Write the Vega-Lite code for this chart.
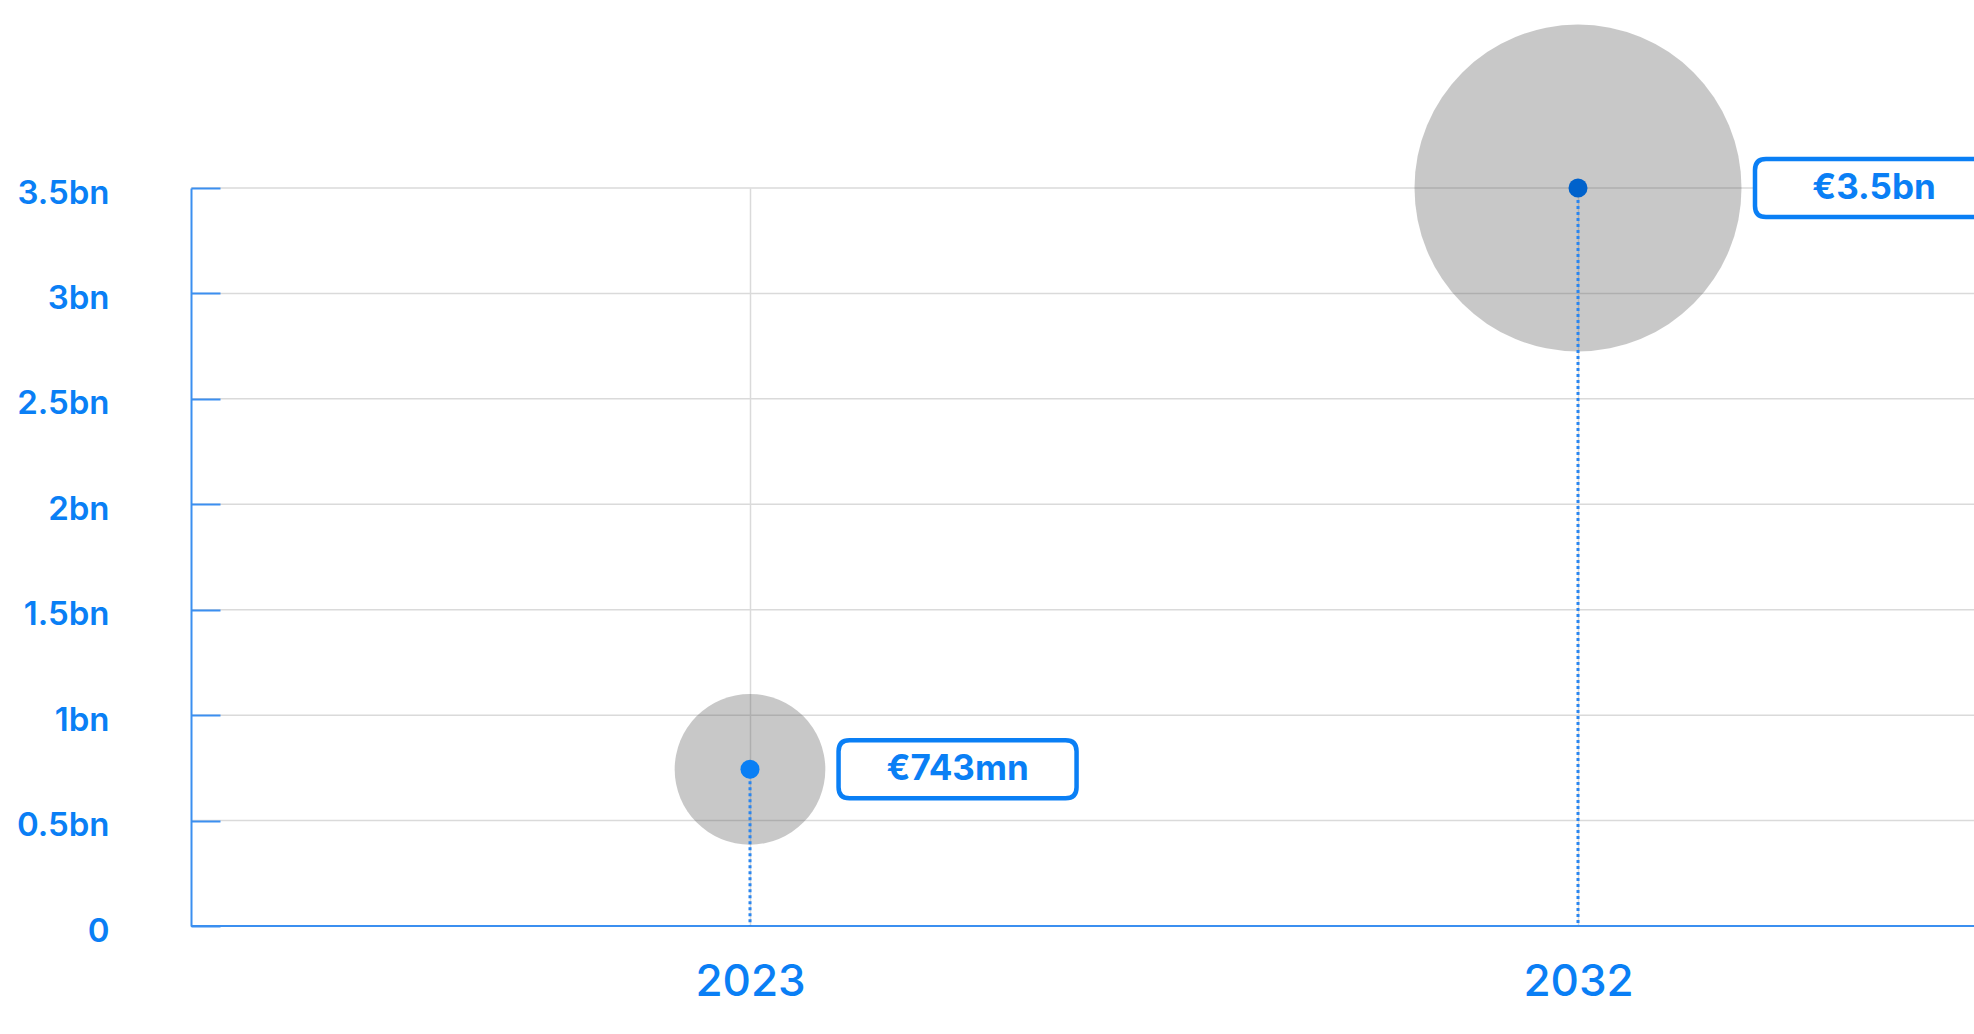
{
  "$schema": "https://vega.github.io/schema/vega-lite/v6.json",
  "width": 1783,
  "height": 738,
  "autosize": {"type": "none"},
  "padding": {"left": 191, "top": 188, "right": 0, "bottom": 108},
  "background": "white",
  "config": {"view": {"stroke": null}, "font": "Inter"},
  "datasets": {
    "points": [
      {"year": 2023, "value": 743000000, "label": "€743mn"},
      {"year": 2032, "value": 3500000000, "label": "€3.5bn"}
    ],
    "gridlines": [
      {"value": 0}, {"value": 500000000}, {"value": 1000000000}, {"value": 1500000000},
      {"value": 2000000000}, {"value": 2500000000}, {"value": 3000000000}, {"value": 3500000000}
    ]
  },
  "layer": [
    {
      "data": {"name": "gridlines"},
      "mark": {"type": "rule"},
      "encoding": {
        "y": {
          "field": "value",
          "type": "quantitative",
          "scale": {"domain": [0, 3500000000], "nice": false},
          "axis": {
            "values": [0, 500000000, 1000000000, 1500000000, 2000000000, 2500000000, 3000000000, 3500000000],
            "labelExpr": "datum.value == 0 ? '0' : (datum.value / 1e9) + 'bn'",
            "labelFont": "Inter",
            "labelFontSize": 33,
            "labelFontWeight": 600,
            "labelColor": "#0a7ff5",
            "labelPadding": 111,
            "labelOffset": 5,
            "tickSize": -29,
            "tickColor": "#3b8ff0",
            "tickWidth": 2,
            "domainColor": "#3b8ff0",
            "domainWidth": 2,
            "grid": false,
            "zindex": 1,
            "title": null
          }
        },
        "color": {
          "condition": {"test": "datum.value === 0", "value": "#3b8ff0"},
          "value": "#dadada"
        },
        "strokeWidth": {
          "condition": {"test": "datum.value === 0", "value": 2},
          "value": 1.5
        }
      }
    },
    {
      "data": {"name": "points"},
      "encoding": {
        "x": {
          "field": "year",
          "type": "ordinal",
          "scale": {"type": "point", "range": [559, 1387], "padding": 0},
          "axis": {
            "ticks": false,
            "domain": false,
            "grid": true,
            "labelAngle": 0,
            "labelFont": "Inter",
            "labelFontSize": 44,
            "labelFontWeight": 500,
            "labelColor": "#0a7ff5",
            "labelPadding": 34,
            "gridColor": "#dadada",
            "gridWidth": 1.5,
            "title": null
          }
        },
        "y": {
          "field": "value",
          "type": "quantitative",
          "scale": {"domain": [0, 3500000000], "nice": false},
          "axis": {
            "values": [0, 500000000, 1000000000, 1500000000, 2000000000, 2500000000, 3000000000, 3500000000],
            "labelExpr": "datum.value == 0 ? '0' : (datum.value / 1e9) + 'bn'",
            "labelFont": "Inter",
            "labelFontSize": 33,
            "labelFontWeight": 600,
            "labelColor": "#0a7ff5",
            "labelPadding": 111,
            "labelOffset": 5,
            "tickSize": -29,
            "tickColor": "#3b8ff0",
            "tickWidth": 2,
            "domainColor": "#3b8ff0",
            "domainWidth": 2,
            "grid": false,
            "zindex": 1,
            "title": null
          }
        }
      },
      "layer": [
        {
          "mark": {"type": "circle", "fill": "#555555", "opacity": 0.32},
          "encoding": {
            "size": {
              "field": "value",
              "type": "quantitative",
              "scale": {"domain": [0, 3500000000], "range": [0, 106929]},
              "legend": null
            }
          }
        },
        {
          "mark": {"type": "rule", "color": "#2a86f0", "strokeWidth": 3, "strokeDash": [3, 3]},
          "encoding": {"y2": {"datum": 0}}
        },
        {
          "mark": {"type": "circle", "size": 361, "opacity": 1},
          "encoding": {
            "color": {
              "condition": {"test": "datum.year == 2032", "value": "#0062cc"},
              "value": "#0a7ff5"
            }
          }
        },
        {
          "mark": {
            "type": "point",
            "shape": "M-0.9076,-0.2437L0.9076,-0.2437Q1,-0.2437,1,-0.1513L1,0.1513Q1,0.2437,0.9076,0.2437L-0.9076,0.2437Q-1,0.2437,-1,0.1513L-1,-0.1513Q-1,-0.2437,-0.9076,-0.2437Z",
            "size": 56644,
            "fill": "white",
            "stroke": "#0a7ff5",
            "strokeWidth": 4.5,
            "opacity": 1,
            "fillOpacity": 1
          },
          "encoding": {
            "xOffset": {
              "field": "value",
              "type": "quantitative",
              "scale": {"type": "sqrt", "domain": [0, 3500000000], "range": [132, 296]}
            }
          }
        },
        {
          "mark": {
            "type": "text",
            "font": "Inter",
            "fontSize": 35,
            "fontWeight": "bold",
            "color": "#0a7ff5",
            "align": "center",
            "baseline": "middle"
          },
          "encoding": {
            "text": {"field": "label"},
            "xOffset": {
              "field": "value",
              "type": "quantitative",
              "scale": {"type": "sqrt", "domain": [0, 3500000000], "range": [132, 296]}
            }
          }
        }
      ]
    }
  ]
}
